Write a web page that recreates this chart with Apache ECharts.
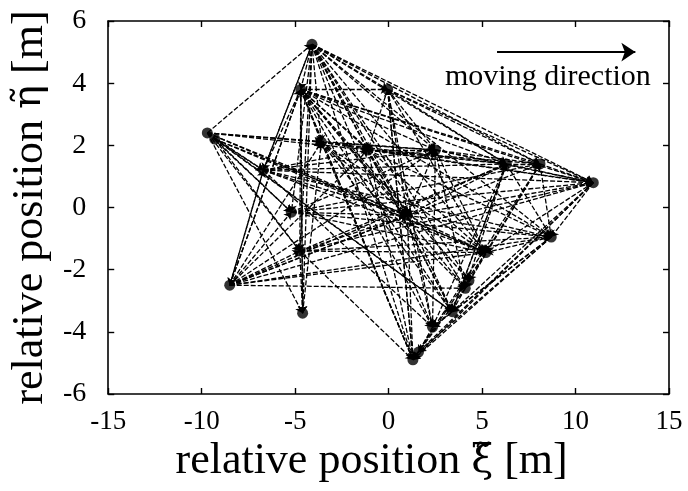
<!DOCTYPE html>
<html>
<head>
<meta charset="utf-8">
<script src="https://cdn.jsdelivr.net/npm/echarts@6/dist/echarts.min.js"></script>
<style>
html,body{margin:0;padding:0;background:#fff;}
#c{width:688px;height:491px;}
</style>
</head>
<body>
<div id="c"></div>
<script>
// Node positions (relative position xi, eta) in metres
const nodeX = [-4.1, -4.7, -9.7, -9.3, -3.6, -1.1, -6.7, -5.2, -4.75, -8.5, -4.6, -0.05, 2.5, 1.0, 6.3, 8.1, 10.95, 8.7, 5.2, 4.1, 3.4, 2.35, 1.3, 4.3, 1.6];
const nodeY = [5.25, 3.8, 2.4, 2.2, 2.1, 1.85, 1.2, -0.15, -1.4, -2.5, -3.4, 3.8, 1.85, -0.25, 1.4, 1.4, 0.8, -0.95, -1.45, -2.6, -3.35, -3.85, -4.9, -2.35, -4.65];
// Directed links between nodes [from, to]
const edges = [
  [2,0],[2,6],[2,7],[2,8],[2,5],[2,13],[2,18],[2,10],[2,4],[2,12],[2,20],
  [3,6],[3,7],[3,13],[3,20],[3,8],[3,18],
  [0,1],[0,4],[0,5],[0,11],[0,12],[0,13],[0,14],[0,15],[0,16],[0,17],[0,18],[0,19],[0,20],[0,8],[0,10],[0,7],[0,6],[0,22],[0,23],[0,21],
  [1,11],[1,4],[1,5],[1,12],[1,13],[1,14],[1,16],[1,17],[1,18],[1,19],[1,20],[1,21],[1,9],[1,10],[1,8],[1,22],[1,15],[1,23],
  [6,9],[6,0],[6,1],[6,5],[6,13],[6,18],[6,12],[6,17],[6,21],[6,14],[6,16],
  [9,8],[9,7],[9,6],[9,4],[9,5],[9,13],[9,12],[9,18],[9,17],[9,14],[9,1],[9,19],[9,16],[9,15],
  [8,13],[8,18],[8,22],[8,17],[8,10],[8,14],[8,16],
  [7,12],[7,13],[7,18],[7,15],[7,16],[7,17],
  [10,1],[10,4],
  [4,13],[4,20],[4,19],[4,18],[4,12],[4,22],[4,14],[4,16],
  [5,12],[5,13],[5,16],[5,20],[5,22],[5,17],[5,14],[5,15],
  [11,16],[11,15],[11,14],[11,12],[11,13],[11,21],[11,22],[11,18],[11,5],
  [12,14],[12,15],[12,16],[12,18],[12,19],[12,13],
  [13,14],[13,16],[13,17],[13,18],[13,22],[13,21],[13,20],
  [14,15],[14,16],[14,20],[14,19],[14,21],[14,17],
  [15,16],[15,17],[15,18],[15,22],
  [16,17],[16,18],[16,22],[16,24],[16,20],
  [17,18],[17,22],[17,24],[17,21],[17,20],
  [22,1],[22,11],[21,12],[20,14],[19,15],
  [18,23],[23,19],[19,20],[20,21],[21,24],[24,22],[18,22],[19,22]
];
// Moving-direction arrow (data coords)
const arrowX = [5.8, 13.2];
const arrowY = [5.0, 5.0];
const xTicks = {min: -15, max: 15, interval: 5};
const yTicks = {min: -6, max: 6, interval: 2};

const FONT = '"Liberation Serif","Times New Roman",serif';
const SYMFONT = '"DejaVu Serif","Liberation Serif",serif';
const chart = echarts.init(document.getElementById('c'), null, {renderer: 'canvas'});

const linkData = edges.map(e => ({coords: [[nodeX[e[0]], nodeY[e[0]]], [nodeX[e[1]], nodeY[e[1]]]]}));
const pts = nodeX.map((x, i) => [x, nodeY[i]]);

const axisCommon = {
  axisLine: {show: true, onZero: false, lineStyle: {color: '#000', width: 1.6}},
  axisTick: {show: true, inside: true, length: 6, lineStyle: {color: '#000', width: 1.4}},
  splitLine: {show: false}
};
const titleRich = {
  a: {fontFamily: FONT, fontSize: 44, color: '#000'},
  b: {fontFamily: SYMFONT, fontSize: 40, color: '#000'}
};

chart.setOption({
  animation: false,
  backgroundColor: '#fff',
  grid: {left: 107, right: 19, top: 21, bottom: 97, containLabel: false},
  xAxis: [
    Object.assign({type: 'value', position: 'bottom', min: xTicks.min, max: xTicks.max, interval: xTicks.interval,
      name: '{a|relative position }{b|ξ\u0303}{a| [m]}', nameLocation: 'middle', nameGap: 44,
      nameTextStyle: {fontFamily: FONT, fontSize: 44, color: '#000', padding: [0, 34, 0, 0], rich: titleRich},
      axisLabel: {fontFamily: FONT, fontSize: 27, color: '#000', margin: 14}}, axisCommon),
    Object.assign({type: 'value', position: 'top', min: xTicks.min, max: xTicks.max, interval: xTicks.interval,
      axisLabel: {show: false}}, axisCommon)
  ],
  yAxis: [
    Object.assign({type: 'value', position: 'left', min: yTicks.min, max: yTicks.max, interval: yTicks.interval,
      name: '{a|relative position }{b|η\u0303}{a| [m]}', nameLocation: 'middle', nameGap: 50, nameRotate: 90,
      nameTextStyle: {fontFamily: FONT, fontSize: 44, color: '#000', rich: titleRich},
      axisLabel: {fontFamily: FONT, fontSize: 28, color: '#000', margin: 22}}, axisCommon),
    Object.assign({type: 'value', position: 'right', min: yTicks.min, max: yTicks.max, interval: yTicks.interval,
      axisLabel: {show: false}}, axisCommon)
  ],
  series: [
    {
      type: 'lines', coordinateSystem: 'cartesian2d', xAxisIndex: 0, yAxisIndex: 0,
      data: linkData,
      symbol: ['none', 'arrow'], symbolSize: 7,
      lineStyle: {color: '#000', width: 1.3, type: [5, 2], opacity: 1},
      silent: true, z: 2
    },
    {
      type: 'scatter', xAxisIndex: 0, yAxisIndex: 0,
      data: pts, symbol: 'circle', symbolSize: 11,
      itemStyle: {color: '#000'}, silent: true, z: 3
    },
    {
      type: 'lines', coordinateSystem: 'cartesian2d', xAxisIndex: 0, yAxisIndex: 0,
      data: [{coords: [[arrowX[0], arrowY[0]], [arrowX[1], arrowY[1]]]}],
      symbol: ['none', 'arrow'], symbolSize: [10, 14],
      lineStyle: {color: '#000', width: 2, type: 'solid', opacity: 1},
      silent: true, z: 4
    }
  ],
  graphic: [
    {type: 'text', left: 445, top: 62, z: 10,
     style: {text: 'moving direction', font: '30px ' + FONT, fill: '#000'}}
  ]
});
</script>
</body>
</html>
